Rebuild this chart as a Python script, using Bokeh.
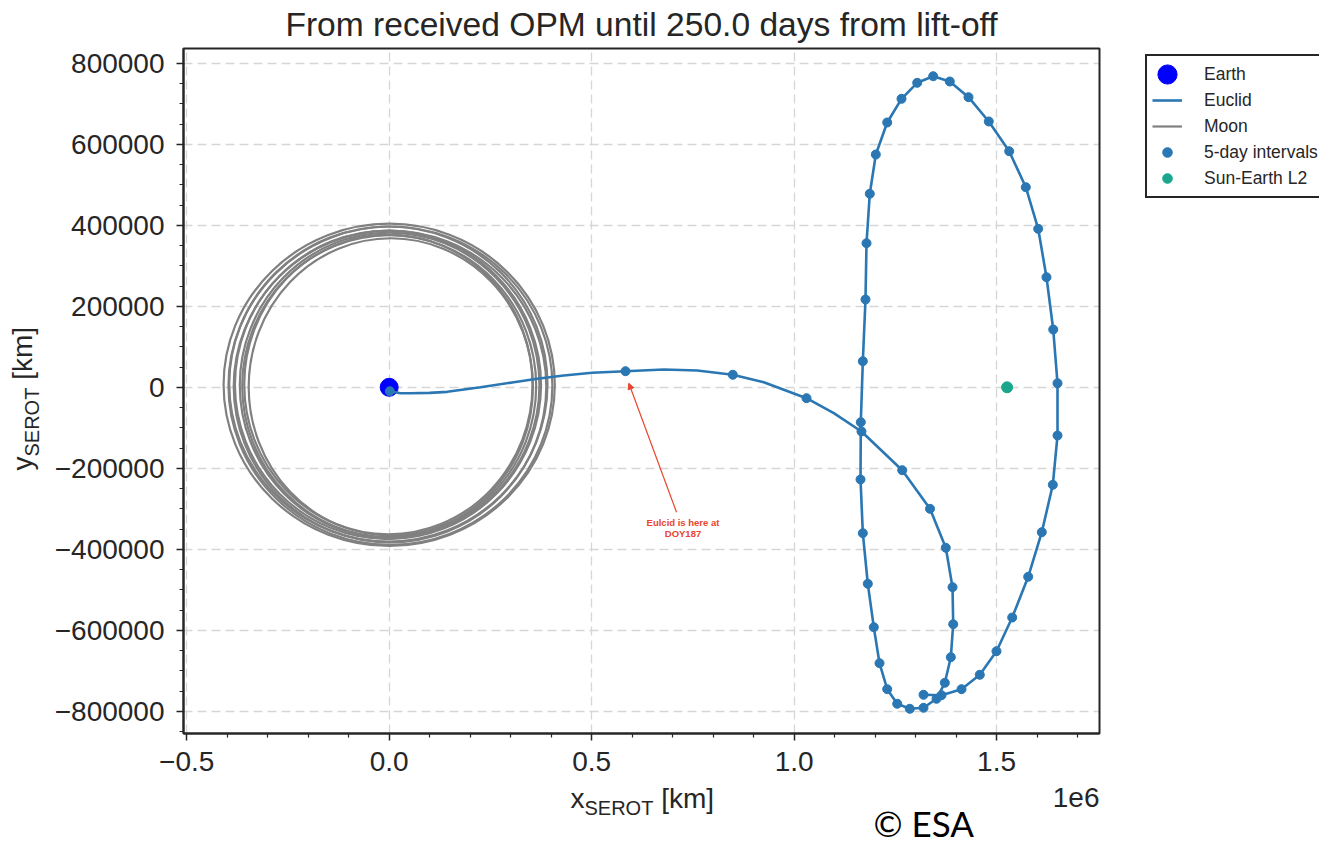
import numpy as np
from bokeh.plotting import figure
from bokeh.models import (Range1d, FixedTicker, Label, Arrow, NormalHead,
                          Legend, LegendItem, BoxAnnotation, Grid)
from bokeh.embed import file_html
from bokeh.resources import INLINE

# ---------------- data (km, SEROT frame) ----------------
title_text = "From received OPM until 250.0 days from lift-off"

x_ticks = [-500000, 0, 500000, 1000000, 1500000]
x_tick_labels = ["\u22120.5", "0.0", "0.5", "1.0", "1.5"]
x_minor = [-400000, -300000, -200000, -100000, 100000, 200000, 300000, 400000,
           600000, 700000, 800000, 900000, 1100000, 1200000, 1300000, 1400000,
           1600000, 1700000]
y_ticks = [-800000, -600000, -400000, -200000, 0, 200000, 400000, 600000, 800000]
y_tick_labels = ["\u2212800000", "\u2212600000", "\u2212400000", "\u2212200000", "0",
                 "200000", "400000", "600000", "800000"]
y_minor = [-850000, -750000, -700000, -650000, -550000, -500000, -450000, -350000,
           -300000, -250000, -150000, -100000, -50000, 50000, 100000, 150000,
           250000, 300000, 350000, 450000, 500000, 550000, 650000, 700000, 750000,
           800000]

earth_x = [0]
earth_y = [0]
l2_x = [1526000]
l2_y = [0]

# Moon loops (centre and full width / height of each lunar loop)
moon_cx = [0, 3000, -2000, 2000, -3000, 1000, 0, -2000, 4000]
moon_cy = [6000, 4000, 8000, 2000, 6000, 5000, 3000, 7000, 1000]
moon_w = [818000, 800000, 786000, 772000, 756000, 740000, 726000, 712000, 702000]
moon_h = [796000, 786000, 778000, 770000, 762000, 754000, 746000, 740000, 734000]

# 5-day interval positions
interval_x = [1500, 583600, 848600, 1030600, 1166400, 1267000, 1335600, 1374600,
              1391200, 1392900, 1387000, 1372200, 1351700, 1319600, 1285700,
              1254600, 1229900, 1210900, 1196800, 1182000, 1169700, 1164000,
              1164700, 1169700, 1176300, 1178800, 1186900, 1201800, 1229900,
              1265200, 1304000, 1343500, 1384500, 1430700, 1480800, 1531200,
              1572200, 1602800, 1623300, 1639900, 1650500, 1650500, 1638900,
              1611700, 1578100, 1538600, 1499800, 1458600, 1413400, 1364000,
              1319600]
interval_y = [-9600, 39700, 30900, -26900, -109100, -204700, -300000, -396300,
              -493500, -584900, -666400, -729600, -769100, -791300, -793800,
              -781400, -745400, -681200, -592300, -485200, -360200, -227600,
              -86200, 64400, 216800, 355800, 477800, 574800, 653800, 712300,
              751800, 768100, 755000, 716300, 656300, 582900, 494000, 391300,
              271800, 142700, 10100, -119000, -240700, -357800, -467900,
              -568400, -651600, -709800, -745400, -760200, -759200]

# Euclid trajectory (line): early transfer leg read finely, then the orbit
euclid_x = [1500, 27900, 52600, 100000, 143200, 225500, 307700, 365500, 431200,
            501300, 583600, 678200, 760700, 848600, 925100, 1030600,
            1098000] + interval_x[4:]
euclid_y = [-9600, -14600, -14600, -13800, -11200, 200, 12600, 21000, 29100,
            35800, 39700, 43900, 41500, 30900, 12600, -26900,
            -63900] + interval_y[4:]

note_lines = ["Eulcid is here at", "DOY187"]
note_x = 725600
note_y = [-333000, -360000]
arrow_start = (709600, -308400)
arrow_end = (591800, 10100)

# ---------------- layout / styles ----------------
TXT = "#262626"
BLUE = "#2a77b3"
TEAL = "#19a68c"
RED = "#e8452c"
FONT = "Liberation Sans"

W, H = 1319, 843
BOX_X = (-508000, 1754200)          # axes box, data units
BOX_Y = (-854800, 836500)
BL, BR, BT, BB = 183, 1099, 48, 733  # axes box, page pixels
kx = (BOX_X[1] - BOX_X[0]) / (BR - BL)
ky = (BOX_Y[1] - BOX_Y[0]) / (BB - BT)

p = figure(width=W, height=H, output_backend="svg", toolbar_location=None,
           x_range=Range1d(BOX_X[0] - BL * kx, BOX_X[1] + (W - BR) * kx),
           y_range=Range1d(BOX_Y[0] - (H - BB) * ky, BOX_Y[1] + BT * ky),
           min_border=0, background_fill_color="white", border_fill_color="white")
p.outline_line_color = None

xt = FixedTicker(ticks=x_ticks, minor_ticks=x_minor)
yt = FixedTicker(ticks=y_ticks, minor_ticks=y_minor)
xa, ya = p.xaxis[0], p.yaxis[0]
xa.ticker = xt
ya.ticker = yt
xa.fixed_location = BOX_Y[0]
ya.fixed_location = BOX_X[0]
xa.bounds = BOX_X
ya.bounds = BOX_Y
xa.major_label_overrides = {t: l for t, l in zip(x_ticks, x_tick_labels)}
ya.major_label_overrides = {t: l for t, l in zip(y_ticks, y_tick_labels)}
for ax in (xa, ya):
    ax.axis_line_color = TXT
    ax.axis_line_width = 2
    ax.major_tick_line_color = TXT
    ax.major_tick_line_width = 1.5
    ax.major_tick_out = 7
    ax.major_tick_in = 0
    ax.minor_tick_line_color = TXT
    ax.minor_tick_line_width = 1.2
    ax.minor_tick_out = 4
    ax.minor_tick_in = 0
    ax.major_label_text_font = FONT
    ax.major_label_text_font_size = "28px"
    ax.major_label_text_color = TXT
xa.major_label_standoff = 11
ya.major_label_standoff = 12

grid_style = dict(line_color="#d6d6d6", line_dash="9 5", line_width=1.3)
gx, gy = p.xgrid[0], p.ygrid[0]
gx.ticker = xt
gy.ticker = yt
if "cross_bounds" in Grid.properties():
    gx.cross_bounds = BOX_Y
    gy.cross_bounds = BOX_X
    for g in (gx, gy):
        g.grid_line_color = grid_style["line_color"]
        g.grid_line_dash = grid_style["line_dash"]
        g.grid_line_width = grid_style["line_width"]
else:
    gx.visible = False
    gy.visible = False
    p.segment(x0=x_ticks, x1=x_ticks, y0=[BOX_Y[0]] * len(x_ticks),
              y1=[BOX_Y[1]] * len(x_ticks), level="underlay", **grid_style)
    p.segment(y0=y_ticks, y1=y_ticks, x0=[BOX_X[0]] * len(y_ticks),
              x1=[BOX_X[1]] * len(y_ticks), level="underlay", **grid_style)

# ---------------- marks ----------------
moon_r = p.ellipse(x=moon_cx, y=moon_cy, width=moon_w, height=moon_h,
                   fill_color=None, line_color="#808080", line_width=2.2)
# one-point line: invisible in the plot, gives the Moon its line legend glyph
moon_leg = p.line(x=moon_cx[:1], y=moon_cy[:1], line_color="#808080", line_width=2.2)
earth_r = p.ellipse(x=earth_x, y=earth_y, width=18, height=18, width_units="screen",
                    height_units="screen", fill_color="#0000ff", line_color="#0000ff")
euclid_r = p.line(euclid_x, euclid_y, line_color=BLUE, line_width=2.6)
int_r = p.scatter(interval_x, interval_y, size=9, color=BLUE)
l2_r = p.scatter(l2_x, l2_y, size=11, color=TEAL)

p.add_layout(Arrow(end=NormalHead(size=6, fill_color=RED, line_color=RED),
                   x_start=arrow_start[0], y_start=arrow_start[1],
                   x_end=arrow_end[0], y_end=arrow_end[1],
                   line_color=RED, line_width=1.2))
for txt, ty in zip(note_lines, note_y):
    p.add_layout(Label(x=note_x, y=ty, text=txt, text_align="center",
                       text_baseline="middle", text_font=FONT,
                       text_font_style="bold", text_font_size="9.5px",
                       text_color=RED))

p.add_layout(BoxAnnotation(left=BOX_X[0], right=BOX_X[1], bottom=BOX_Y[0],
                           top=BOX_Y[1], fill_color=None, line_color=TXT,
                           line_alpha=1.0, line_width=2))


# ---------------- texts (page px of the baseline start) ----------------
SHIFT = 0.36   # baseline correction of the svg text, in em


def lab(px, py, text, size, rotated=False, **kw):
    s = float(size.rstrip("px"))
    if rotated:
        x, y, ang = px - SHIFT * s, H - py, np.pi / 2
    else:
        x, y, ang = px, H - py + SHIFT * s, 0.0
    opts = dict(x=x, y=y, angle=ang, x_units="screen", y_units="screen", text=text,
                text_font=FONT, text_font_size=size, text_color=TXT,
                text_baseline="alphabetic", text_align="left")
    opts.update(kw)
    p.add_layout(Label(**opts))


lab((BL + BR) / 2, 36, title_text, "33.6px", text_align="center")
lab(570, 808, "x", "28px")
lab(584, 815, "SEROT", "20px")
lab(660.7, 808, "[km]", "28px")
lab(32, 470, "y", "28px", rotated=True)
lab(39, 456, "SEROT", "20px", rotated=True)
lab(32, 379.3, "[km]", "28px", rotated=True)
lab(BR, 807, "1e6", "28px", text_align="right")
lab(873, 835, "\u00a9 ESA", "35px", text_font="Lato", text_color="black")

# ---------------- legend ----------------
legend = Legend(items=[LegendItem(label="Earth", renderers=[earth_r]),
                       LegendItem(label="Euclid", renderers=[euclid_r]),
                       LegendItem(label="Moon", renderers=[moon_leg]),
                       LegendItem(label="5-day intervals", renderers=[int_r]),
                       LegendItem(label="Sun-Earth L2", renderers=[l2_r])],
                location=(1145, H - 198), padding=5, spacing=0, margin=0,
                glyph_width=30, glyph_height=24, label_height=26,
                label_standoff=22, label_text_font=FONT,
                label_text_font_size="17.5px", label_text_color=TXT,
                border_line_color=TXT, border_line_alpha=1.0, border_line_width=2,
                background_fill_color="white", background_fill_alpha=1.0)
p.add_layout(legend)

open("out.html", "w").write(file_html(p, INLINE))
